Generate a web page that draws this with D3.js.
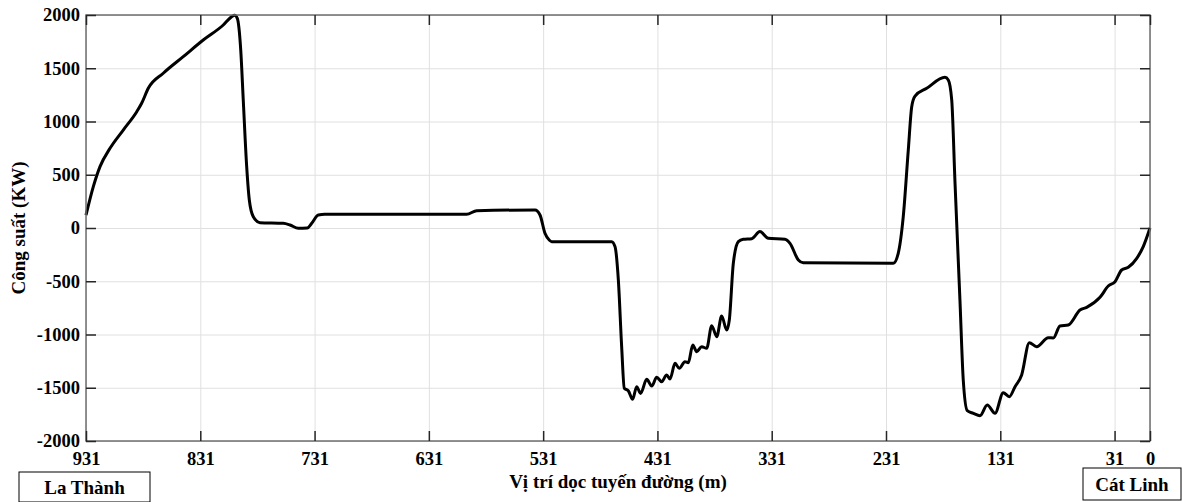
<!DOCTYPE html>
<html>
<head>
<meta charset="utf-8">
<script src="https://cdn.jsdelivr.net/npm/d3@7"></script>
<style>
    body { margin: 0; background: #fff; }
    text { font-family: "Liberation Serif", "Times New Roman", serif; font-weight: bold; fill: #000; }
    .grid line { stroke: #e0e0e0; stroke-width: 1; }
    .grid path { display: none; }
    .ticks line { stroke: #262626; stroke-width: 1.5; }
    .ticks path { display: none; }
</style>
</head>
<body>
<svg id="chart"></svg>
<script>
// vị trí (m), trái -> phải
const distance = [931, 924.6, 918.75, 910, 898.4, 886.6, 882.3, 876.5, 863.4, 845.9, 828.4, 810.9, 803.5, 801, 798.6, 795.6, 793.4, 790.4, 788.1, 784.6,
    778.75, 758.4, 752.5, 745.2, 737.4, 733.5, 727.7, 722, 597.9, 589.1, 538.1, 533.75, 529.4, 525.5, 523.5, 471, 468.1, 465.2, 462.3, 460,
    456.5, 452.7, 449.2, 445.7, 440.4, 436, 431.6, 427.3, 422.9, 420, 415.6, 411.9, 406.9, 404, 400.1, 396.6, 392.3, 387.9, 383.5, 379.1,
    374.8, 370.4, 368.1, 364.6, 360.2, 355.9, 348.5, 341.3, 334, 319.4, 315, 307.7, 303.4, 224.6, 220.3, 215.9, 211.5, 208.5, 205.6, 195.4,
    179.4, 176.5, 173.5, 170.6, 166.3, 163.4, 159.9, 154.6, 148.75, 142.4, 135.6, 128.4, 123.1, 118.1, 112.3, 105.6, 99.2, 89, 84.6, 78.75,
    71.5, 61.25, 55.4, 43.75, 36.5, 30.6, 24.8, 19, 11.6, 5.9, 0];

// công suất (KW)
const power = [120, 388, 576, 748, 920, 1092, 1171, 1312, 1453, 1609, 1765, 1906, 1985, 1998, 1968, 1671, 1202, 576, 263, 106,
    50, 44, 28, -3, 0, 44, 122, 128, 128, 163, 169, 122, -50, -115, -128, -128, -175, -488, -1114, -1505,
    -1528, -1609, -1490, -1553, -1421, -1484, -1402, -1443, -1380, -1418, -1271, -1318, -1255, -1265, -1099, -1161, -1114, -1130, -917, -1020,
    -826, -958, -864, -332, -128, -106, -100, -34, -97, -106, -144, -300, -326, -332, -238, 106, 732, 1139, 1239, 1312,
    1415, 1390, 1202, 420, -676, -1427, -1715, -1740, -1762, -1662, -1740, -1546, -1584, -1490, -1380, -1077, -1114, -1030, -1033, -920,
    -911, -770, -745, -651, -545, -504, -394, -369, -285, -175, 0];

const x_ticks = [931, 831, 731, 631, 531, 431, 331, 231, 131, 31, 0];
const y_ticks = [-2000, -1500, -1000, -500, 0, 500, 1000, 1500, 2000];

const margin = {top: 15, right: 33, bottom: 61, left: 86},
    full_width = 1183,
    full_height = 502,
    width = full_width - margin.left - margin.right,
    height = full_height - margin.top - margin.bottom;

const root = d3.select("#chart")
    .attr("width", full_width)
    .attr("height", full_height);

const svg = root.append("g")
    .attr("transform", "translate(" + margin.left + "," + margin.top + ")");

var xScale = d3.scaleLinear()
    .domain([931, 0])
    .range([0, width]);

var yScale = d3.scaleLinear()
    .domain([-2000, 2000])
    .range([height, 0]);

//grid
svg.append("g")
    .attr("class", "grid")
    .attr("transform", "translate(0," + height + ")")
    .call(d3.axisBottom(xScale).tickValues(x_ticks).tickSize(-height).tickFormat(""));

svg.append("g")
    .attr("class", "grid")
    .call(d3.axisLeft(yScale).tickValues(y_ticks).tickSize(-width).tickFormat(""));

//line
var points = distance.map(function (d, i) { return {d: d, p: power[i]}; });

var line = d3.line()
    .x(function (d) { return xScale(d.d); })
    .y(function (d) { return yScale(d.p); })
    .curve(d3.curveMonotoneX);

svg.append("path")
    .datum(points)
    .attr("fill", "none")
    .attr("stroke", "#000")
    .attr("stroke-width", 3)
    .attr("stroke-linejoin", "round")
    .attr("d", line);

//box
svg.append("rect")
    .attr("width", width)
    .attr("height", height)
    .attr("fill", "none")
    .attr("stroke", "#6e6e6e")
    .attr("stroke-width", 1.5);

//ticks inward on all four sides, plain hyphen for minus
var plain = function (d) { return String(d); };

svg.append("g")
    .attr("class", "ticks x-axis")
    .attr("transform", "translate(0," + height + ")")
    .call(d3.axisBottom(xScale).tickValues(x_ticks).tickSize(-10).tickPadding(11).tickFormat(plain));

svg.append("g")
    .attr("class", "ticks")
    .call(d3.axisTop(xScale).tickValues(x_ticks).tickSize(-10).tickFormat(""));

svg.append("g")
    .attr("class", "ticks y-axis")
    .call(d3.axisLeft(yScale).tickValues(y_ticks).tickSize(-10).tickPadding(6).tickFormat(plain));

svg.append("g")
    .attr("class", "ticks")
    .attr("transform", "translate(" + width + ",0)")
    .call(d3.axisRight(yScale).tickValues(y_ticks).tickSize(-10).tickFormat(""));

svg.selectAll(".x-axis text, .y-axis text")
    .style("font-family", "'Liberation Serif', 'Times New Roman', serif")
    .style("font-weight", "bold")
    .style("font-size", "18.5px")
    .attr("fill", "#000");

//axis labels
svg.append("text")
    .attr("class", "axis-labels")
    .attr("x", width / 2)
    .attr("y", height + 47)
    .style("text-anchor", "middle")
    .style("font-size", "19px")
    .text("Vị trí dọc tuyến đường (m)");

svg.append("text")
    .attr("class", "axis-labels")
    .attr("transform", "translate(" + (-61) + "," + (height / 2) + ") rotate(-90)")
    .style("text-anchor", "middle")
    .style("font-size", "19px")
    .text("Công suất (KW)");

//station boxes
var stations = [
    {name: "La Thành", x: 19, y: 472, w: 131, h: 30},
    {name: "Cát Linh", x: 1083, y: 468, w: 98, h: 32}
];

var st = root.selectAll("g.station")
    .data(stations)
    .enter()
    .append("g")
    .attr("class", "station");

st.append("rect")
    .attr("x", function (d) { return d.x; })
    .attr("y", function (d) { return d.y; })
    .attr("width", function (d) { return d.w; })
    .attr("height", function (d) { return d.h; })
    .attr("fill", "#fff")
    .attr("stroke", "#000")
    .attr("stroke-width", 1);

st.append("text")
    .attr("x", function (d) { return d.x + d.w / 2; })
    .attr("y", function (d) { return d.y + d.h / 2 + 7; })
    .style("text-anchor", "middle")
    .style("font-size", "19px")
    .text(function (d) { return d.name; });
</script>
</body>
</html>
